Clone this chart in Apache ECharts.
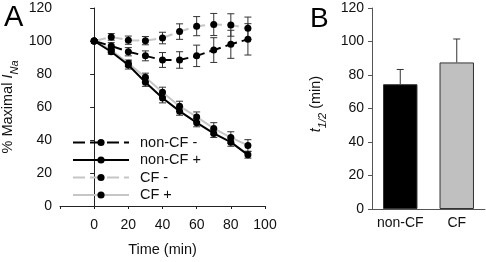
<!DOCTYPE html>
<html>
<head>
<meta charset="utf-8">
<script src="https://cdn.jsdelivr.net/npm/echarts@6/dist/echarts.min.js"></script>
<style>
html,body{margin:0;padding:0;background:#fff;}
#c{width:486px;height:262px;}
</style>
</head>
<body>
<div id="c"></div>
<script>
// ---------- data ----------
var time = [0, 10, 20, 30, 40, 50, 60, 70, 80, 90];
var nonCFminus    = [100, 97, 93.5, 91, 88.5, 88.5, 91, 94.5, 98, 101];
var nonCFminusErr = [0, 2, 2.5, 3, 4.5, 5, 6.5, 7.5, 8.5, 9.5];
var nonCFplus     = [100, 93.5, 85.5, 75, 65.5, 57.5, 50.5, 44, 38.7, 31];
var nonCFplusErr  = [0, 1.5, 2.5, 2.5, 3, 2.5, 2.5, 2.5, 2.5, 2];
var CFminus       = [100, 102.5, 100.5, 100.2, 101.8, 105.7, 109, 110, 109.7, 107.7];
var CFminusErr    = [0, 2, 2.5, 2.5, 3.5, 4.7, 5.8, 6.7, 6.8, 6.8];
var CFplus        = [100, 94.5, 86.5, 78, 69, 60.5, 54, 47, 41.5, 36.7];
var CFplusErr     = [0, 1.5, 2, 2.5, 3, 3, 3, 3.5, 3.5, 3.5];
var seriesNames   = ['non-CF -', 'non-CF +', 'CF -', 'CF +'];

var barCategories = ['non-CF', 'CF'];
var halfLife      = [74.5, 87.5];
var halfLifeErr   = [8.8, 14];

var yTicks = [0, 20, 40, 60, 80, 100, 120];
var xTicks = [0, 20, 40, 60, 80, 100];

// ---------- helpers ----------
var FONT = 'Liberation Sans, Arial, sans-serif';
var ERR_COLOR = '#333';
var TXT = '#111';
function errData(x, m, e) {
  var out = [];
  for (var i = 0; i < x.length; i++) if (e[i] > 0) out.push([x[i], m[i] - e[i], m[i] + e[i]]);
  return out;
}
function errRender(capLow) {
  return function (params, api) {
    var x = api.value(0), lo = api.value(1), hi = api.value(2);
    var pLo = api.coord([x, lo]), pHi = api.coord([x, hi]);
    var h = 3.5, st = { stroke: ERR_COLOR, lineWidth: 1 };
    var ch = [
      { type: 'line', shape: { x1: pLo[0], y1: pLo[1], x2: pHi[0], y2: pHi[1] }, style: st },
      { type: 'line', shape: { x1: pHi[0] - h, y1: pHi[1], x2: pHi[0] + h, y2: pHi[1] }, style: st }
    ];
    if (capLow) ch.push({ type: 'line', shape: { x1: pLo[0] - h, y1: pLo[1], x2: pLo[0] + h, y2: pLo[1] }, style: st });
    return { type: 'group', children: ch };
  };
}
function lineSeries(name, data, color, dashed, z) {
  return {
    name: name, type: 'line', xAxisIndex: 0, yAxisIndex: 0,
    data: time.map(function (t, i) { return [t, data[i]]; }),
    symbol: 'circle', symbolSize: 7, z: z,
    itemStyle: { color: '#000' },
    lineStyle: { color: color, width: 2, type: dashed ? [12, 5] : 'solid' },
    emphasis: { disabled: true }, animation: false
  };
}
function errSeries(x, m, e, z) {
  return {
    type: 'custom', xAxisIndex: 0, yAxisIndex: 0, z: z,
    data: errData(x, m, e), renderItem: errRender(true),
    encode: { x: 0, y: [1, 2] }, animation: false, silent: true
  };
}
var richName = {
  t: { fontSize: 14.5, fontFamily: FONT, fill: TXT, color: TXT, lineHeight: 20, verticalAlign: 'top' },
  i: { fontSize: 14.5, fontFamily: FONT, fontStyle: 'italic', fill: TXT, color: TXT, lineHeight: 20, verticalAlign: 'top' },
  s: { fontSize: 11, fontFamily: FONT, fontStyle: 'italic', fill: TXT, color: TXT, lineHeight: 20, verticalAlign: 'bottom' }
};
function vTitle(x, y, text) {
  return {
    type: 'text', x: x, y: y, rotation: Math.PI / 2, silent: true,
    style: { text: text, rich: richName, align: 'center', verticalAlign: 'middle', fill: TXT, font: '14.5px ' + FONT }
  };
}

var axisTxt = { color: TXT, fontSize: 14, fontFamily: FONT };
var chart = echarts.init(document.getElementById('c'), null, { renderer: 'canvas' });
var option = {
  animation: false,
  title: [
    { text: 'A', left: -1, top: -2, textStyle: { fontSize: 29, fontWeight: 'normal', fontFamily: FONT, color: '#000' } },
    { text: 'B', left: 305, top: 0, textStyle: { fontSize: 28, fontWeight: 'normal', fontFamily: FONT, color: '#000' } }
  ],
  graphic: [
    vTitle(10, 107, '{t|% Maximal }{i|I}{s|Na}'),
    vTitle(318, 104, '{i|t}{s|1/2}{t| (min)}')
  ],
  grid: [
    { left: 60, top: 8, width: 205, height: 202 },
    { left: 372, top: 8, width: 113, height: 201 }
  ],
  legend: {
    data: seriesNames, orient: 'vertical', left: 67, top: 130,
    itemWidth: 56, itemHeight: 9, itemGap: 2.5,
    textStyle: { fontSize: 14.5, fontFamily: FONT, color: TXT, padding: [0, 0, 0, 6] },
    selectedMode: false
  },
  xAxis: [
    {
      gridIndex: 0, type: 'value', min: -20, max: 100, interval: 20,
      name: 'Time (min)', nameLocation: 'middle', nameGap: 36,
      nameTextStyle: { fontSize: 14.5, fontFamily: FONT, color: TXT },
      axisLine: { lineStyle: { color: '#222', width: 1 } },
      axisTick: { length: 3, lineStyle: { color: '#222' } },
      axisLabel: Object.assign({ margin: 12, formatter: function (v) { return xTicks.indexOf(v) >= 0 ? String(v) : ''; } }, axisTxt),
      splitLine: { show: false }
    },
    {
      gridIndex: 1, type: 'category', data: barCategories,
      axisLine: { lineStyle: { color: '#555', width: 1 } },
      axisTick: { alignWithLabel: true, length: 3, lineStyle: { color: '#555' } },
      axisLabel: Object.assign({ margin: 7, interval: 0 }, axisTxt)
    }
  ],
  yAxis: [
    {
      gridIndex: 0, type: 'value', min: 0, max: 120, interval: 20,
      axisLine: { show: true, lineStyle: { color: '#222', width: 1 } },
      axisTick: { show: true, length: 4, lineStyle: { color: '#222' } },
      axisLabel: Object.assign({ margin: 8, formatter: function (v) { return yTicks.indexOf(v) >= 0 ? String(v) : ''; } }, axisTxt),
      splitLine: { show: false }
    },
    {
      gridIndex: 1, type: 'value', min: 0, max: 120, interval: 20,
      axisLine: { show: true, lineStyle: { color: '#555', width: 1 } },
      axisTick: { show: true, length: 4, lineStyle: { color: '#555' } },
      axisLabel: Object.assign({ margin: 8 }, axisTxt),
      splitLine: { show: false }
    }
  ],
  series: [
    errSeries(time, CFminus, CFminusErr, 2),
    errSeries(time, CFplus, CFplusErr, 2),
    errSeries(time, nonCFminus, nonCFminusErr, 2),
    errSeries(time, nonCFplus, nonCFplusErr, 2),
    lineSeries('CF -', CFminus, '#c6c6c6', true, 3),
    lineSeries('CF +', CFplus, '#c6c6c6', false, 3),
    lineSeries('non-CF -', nonCFminus, '#000', true, 4),
    lineSeries('non-CF +', nonCFplus, '#000', false, 4),
    {
      type: 'bar', xAxisIndex: 1, yAxisIndex: 1, barWidth: '61%', z: 2,
      data: halfLife.map(function (v, i) {
        return { value: v, itemStyle: { color: i === 0 ? '#000' : '#c0c0c0', borderColor: '#333', borderWidth: 1 } };
      }),
      emphasis: { disabled: true }, animation: false
    },
    {
      type: 'custom', xAxisIndex: 1, yAxisIndex: 1, z: 1,
      data: halfLife.map(function (v, i) { return [i, v, v + halfLifeErr[i]]; }),
      encode: { x: 0, y: [1, 2] }, renderItem: errRender(false), animation: false, silent: true
    }
  ]
};
chart.setOption(option);
</script>
</body>
</html>
